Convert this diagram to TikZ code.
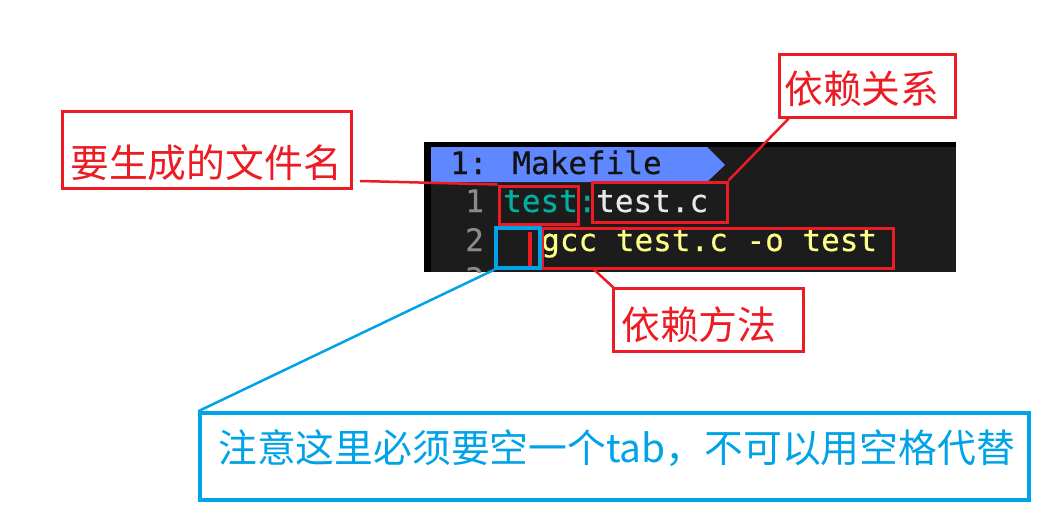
\documentclass[tikz,border=0pt]{standalone}
\usepackage{fontspec}
\newfontfamily\cjkfont{Noto Sans CJK SC}
\newfontfamily\monofont[FakeBold=0.4]{DejaVu Sans Mono}
\usetikzlibrary{calc}
\definecolor{mkred}{HTML}{ED1C24}
\definecolor{mkblue}{HTML}{00A2E8}
\definecolor{panelbg}{HTML}{1C1C1C}
\definecolor{tabblue}{HTML}{5F87FF}
\definecolor{tealtxt}{HTML}{00AFA0}
\definecolor{whitetxt}{HTML}{E8E8E8}
\definecolor{yellowtxt}{HTML}{FFFF87}
\definecolor{graytxt}{HTML}{8A8A8A}
\definecolor{tabtxt}{HTML}{121212}
\begin{document}
\begin{tikzpicture}[x=1pt,y=-1pt,
  redbox/.style={draw=mkred, line width=3pt, inner sep=0pt},
  bluebox/.style={draw=mkblue, line width=3.5pt, inner sep=0pt},
  cjklabel/.style={font=\cjkfont\fontsize{38.8}{40}\selectfont, inner sep=0pt, anchor=base west},
  code/.style={font=\monofont\fontsize{31}{33}\selectfont, inner sep=0pt, anchor=base west},
  redline/.style={draw=mkred, line width=2.5pt},
  blueline/.style={draw=mkblue, line width=2.5pt}]
\useasboundingbox (0,0) rectangle (1062,519);
\fill[white] (0,0) rectangle (1062,519);
% editor panel
\fill[black] (424,142) rectangle (956,272);
\fill[panelbg] (431,147) rectangle (956,272);
\fill[tabblue] (431,147) -- (707,147) -- (725,165) -- (707,182) -- (431,182) -- cycle;
\node[code, text=tabtxt] (tabname) at (450,174) {1: Makefile};
\node[code, text=graytxt] (ln1) at (465,212) {1};
\node[code, text=graytxt] (ln2) at (465,251) {2};
\begin{scope}
  \clip (431,147) rectangle (956,272);
  \node[code, text=graytxt] (ln3) at (465,290) {3};
\end{scope}
\node[code, text=tealtxt] (target) at (503,212) {test:};
\node[code, text=whitetxt] (dep) at (596,212) {test.c};
\node[code, text=yellowtxt] (cmd) at (541,251) {gcc test.c -o test};
\fill[mkred] (528,232) rectangle (532,266);
% boxes
\node[redbox, minimum width=289pt, minimum height=77pt] (fileBox) at (206.5,149.5) {};
\node[cjklabel, text=mkred] (fileLbl) at (70,177.5) {要生成的文件名};
\node[redbox, minimum width=176pt, minimum height=62pt] (relBox) at (867,86) {};
\node[cjklabel, text=mkred] (relLbl) at (784,103.5) {依赖关系};
\node[redbox, minimum width=190pt, minimum height=63pt] (methBox) at (708,319.5) {};
\node[cjklabel, text=mkred] (methLbl) at (621,339.5) {依赖方法};
\node[redbox, minimum width=79pt, minimum height=38pt] (testBox) at (538.5,205) {};
\node[redbox, minimum width=135pt, minimum height=40pt] (depBox) at (659.5,202) {};
\node[redbox, minimum width=351pt, minimum height=40pt] (cmdBox) at (717.5,248) {};
\node[bluebox, minimum width=44pt, minimum height=40pt] (tabBox) at (518,248) {};
\node[bluebox, minimum width=829pt, minimum height=87pt] (noteBox) at (614.5,456.5) {};
\node[cjklabel, text=mkblue] (noteLbl) at (218,462.5) {注意这里必须要空一个tab，不可以用空格代替};
% connectors
\coordinate (fileStart) at (360,181);
\draw[redline] (fileStart) -- (testBox.north west);
\draw[redline] ($(relBox.south west)!0.0625!(relBox.south east)$) -- (depBox.north east);
\draw[redline] ($(cmdBox.south west)!0.151!(cmdBox.south east)$) -- ($(methBox.north west)+(4,3)$);
\draw[blueline] (tabBox.south west) -- (noteBox.north west);
\end{tikzpicture}
\end{document}
